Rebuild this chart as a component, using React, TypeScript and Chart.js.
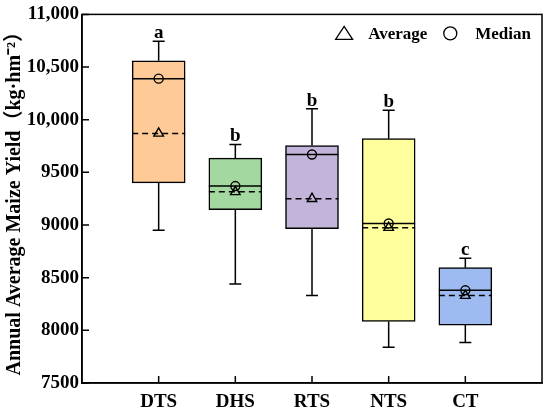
import React, { useEffect, useRef } from 'react';
import { Chart, registerables } from 'chart.js';

Chart.register(...registerables);

// box plot values (kg·hm-2)
const categories = ['DTS', 'DHS', 'RTS', 'NTS', 'CT'];
const whiskerLow = [8950, 8440, 8330, 7840, 7885];
const q1 = [9400, 9145, 8965, 8085, 8050];
const medians = [10390, 9370, 9670, 9015, 8380];
const q3 = [10560, 9635, 9755, 9820, 8595];
const whiskerHigh = [10745, 9765, 10105, 10090, 8685];
const means = [9870, 9315, 9250, 8975, 8330];
const letters = ['a', 'b', 'b', 'b', 'c'];
const boxColors = ['#FDCA98', '#A3D9A0', '#C3B5DA', '#FFFF9E', '#9DBBF0'];

const FONT = '"Liberation Serif", "Times New Roman", "Noto Sans CJK SC", serif';

const boxPlotPlugin = {
    id: 'boxExtras',
    // whiskers, medians and means go on top of the boxes but under the markers
    afterDatasetDraw(chart: any, args: any) {
        if (args.index !== 0) return;
        const { ctx, scales } = chart;
        const x = scales.x;
        const y = scales.y;
        const meta = chart.getDatasetMeta(0);
        ctx.save();
        ctx.strokeStyle = '#000';
        ctx.lineWidth = 1.5;
        categories.forEach((_, i) => {
            const bar = meta.data[i];
            const half = bar.width / 2;
            const cx = x.getPixelForValue(i + 1);
            const capHalf = 6;
            ctx.setLineDash([]);
            ctx.beginPath();
            // upper whisker
            ctx.moveTo(cx, y.getPixelForValue(q3[i]));
            ctx.lineTo(cx, y.getPixelForValue(whiskerHigh[i]));
            ctx.moveTo(cx - capHalf, y.getPixelForValue(whiskerHigh[i]));
            ctx.lineTo(cx + capHalf, y.getPixelForValue(whiskerHigh[i]));
            // lower whisker
            ctx.moveTo(cx, y.getPixelForValue(q1[i]));
            ctx.lineTo(cx, y.getPixelForValue(whiskerLow[i]));
            ctx.moveTo(cx - capHalf, y.getPixelForValue(whiskerLow[i]));
            ctx.lineTo(cx + capHalf, y.getPixelForValue(whiskerLow[i]));
            // median
            ctx.moveTo(cx - half, y.getPixelForValue(medians[i]));
            ctx.lineTo(cx + half, y.getPixelForValue(medians[i]));
            ctx.stroke();
            // mean (dashed)
            ctx.setLineDash([6, 4]);
            ctx.beginPath();
            ctx.moveTo(cx - half, y.getPixelForValue(means[i]));
            ctx.lineTo(cx + half, y.getPixelForValue(means[i]));
            ctx.stroke();
        });
        ctx.restore();
    },
    afterDraw(chart: any) {
        const { ctx, chartArea, scales } = chart;
        const x = scales.x;
        const y = scales.y;
        ctx.save();
        ctx.strokeStyle = '#000';
        ctx.lineWidth = 1.5;
        ctx.setLineDash([]);
        // frame around the plot
        ctx.strokeRect(chartArea.left, chartArea.top, chartArea.right - chartArea.left, chartArea.bottom - chartArea.top);
        // inward ticks
        ctx.beginPath();
        y.ticks.forEach((t: any) => {
            const py = y.getPixelForValue(t.value);
            ctx.moveTo(chartArea.left, py);
            ctx.lineTo(chartArea.left + 7, py);
        });
        categories.forEach((_, i) => {
            const px = x.getPixelForValue(i + 1);
            ctx.moveTo(px, chartArea.bottom);
            ctx.lineTo(px, chartArea.bottom - 7);
        });
        ctx.stroke();

        // significance letters
        ctx.fillStyle = '#000';
        ctx.font = `bold 19px ${FONT}`;
        ctx.textAlign = 'center';
        ctx.textBaseline = 'alphabetic';
        letters.forEach((l, i) => {
            ctx.fillText(l, x.getPixelForValue(i + 1), y.getPixelForValue(whiskerHigh[i]) - 3);
        });

        // legend inside the plot, top right
        ctx.font = `bold 17px ${FONT}`;
        ctx.textBaseline = 'middle';
        ctx.textAlign = 'left';
        const ly = chartArea.top + 19;
        const medW = ctx.measureText('Median').width;
        const avgW = ctx.measureText('Average').width;
        const medX = chartArea.right - 11 - medW;
        const circX = medX - 25;
        const avgX = circX - 23 - avgW;
        const triX = avgX - 24;
        ctx.fillText('Median', medX, ly + 1);
        ctx.fillText('Average', avgX, ly + 1);
        ctx.lineWidth = 1.3;
        ctx.beginPath();
        ctx.arc(circX, ly, 6.5, 0, Math.PI * 2);
        ctx.stroke();
        ctx.beginPath();
        ctx.moveTo(triX, ly - 7);
        ctx.lineTo(triX + 8.5, ly + 6);
        ctx.lineTo(triX - 8.5, ly + 6);
        ctx.closePath();
        ctx.stroke();
        ctx.restore();
    },
};

const App: React.FC = () => {
    const canvasRef = useRef<HTMLCanvasElement | null>(null);
    const chartRef = useRef<Chart | null>(null);

    useEffect(() => {
        document.body.style.margin = '0';
        if (!canvasRef.current) return;
        if (chartRef.current) chartRef.current.destroy();

        chartRef.current = new Chart(canvasRef.current, {
            type: 'bar',
            data: {
                datasets: [
                    {
                        type: 'bar',
                        order: 10,
                        data: categories.map((_, i) => ({ x: i + 1, y: [q1[i], q3[i]] })) as any,
                        backgroundColor: boxColors,
                        borderColor: '#000',
                        borderWidth: 1.5,
                        borderSkipped: false,
                        barThickness: 53,
                    },
                    {
                        type: 'scatter',
                        order: 1,
                        label: 'Average',
                        data: categories.map((_, i) => ({ x: i + 1, y: means[i] })),
                        pointStyle: 'triangle',
                        pointRadius: 5.5,
                        pointBackgroundColor: 'rgba(0,0,0,0)',
                        pointBorderColor: '#000',
                        pointBorderWidth: 1.4,
                    },
                    {
                        type: 'scatter',
                        order: 0,
                        label: 'Median',
                        data: categories.map((_, i) => ({ x: i + 1, y: medians[i] })),
                        pointStyle: 'circle',
                        pointRadius: 4.5,
                        pointBackgroundColor: 'rgba(0,0,0,0)',
                        pointBorderColor: '#000',
                        pointBorderWidth: 1.4,
                    },
                ] as any,
            },
            options: {
                animation: false,
                responsive: false,
                layout: { padding: { left: 0, top: 13, right: 7, bottom: 0 } },
                plugins: {
                    legend: { display: false },
                    tooltip: { enabled: false },
                },
                scales: {
                    x: {
                        type: 'linear',
                        min: 0,
                        max: 6,
                        offset: false,
                        grid: { display: false, drawTicks: false },
                        border: { display: true, color: '#000', width: 1.5 },
                        ticks: {
                            stepSize: 1,
                            autoSkip: false,
                            maxRotation: 0,
                            padding: 8,
                            color: '#000',
                            font: { family: FONT, size: 19, weight: 'bold' },
                            callback: (v: any) => categories[Number(v) - 1] ?? '',
                        },
                        afterFit: (s: any) => { s.height = 32; },
                    },
                    y: {
                        min: 7500,
                        max: 11000,
                        grid: { display: false, drawTicks: false },
                        border: { display: true, color: '#000', width: 1.5 },
                        ticks: {
                            stepSize: 500,
                            padding: 3,
                            color: '#000',
                            font: { family: FONT, size: 19, weight: 'bold' },
                            callback: (v: any) => (Number(v) >= 10000 ? Number(v).toLocaleString('en-US') : String(v)),
                        },
                        title: {
                            display: true,
                            text: 'Annual Average Maize Yield（kg·hm⁻²）',
                            color: '#000',
                            font: { family: FONT, size: 20, weight: 'bold' },
                            padding: { top: 3, bottom: 0 },
                        },
                        afterFit: (s: any) => { s.width = 82; },
                    },
                },
            } as any,
            plugins: [boxPlotPlugin],
        });

        return () => {
            if (chartRef.current) {
                chartRef.current.destroy();
                chartRef.current = null;
            }
        };
    }, []);

    return (
        <div style={{ width: 550, height: 415, background: '#fff' }}>
            <canvas ref={canvasRef} width="550" height="415"></canvas>
        </div>
    );
};

export default App;
